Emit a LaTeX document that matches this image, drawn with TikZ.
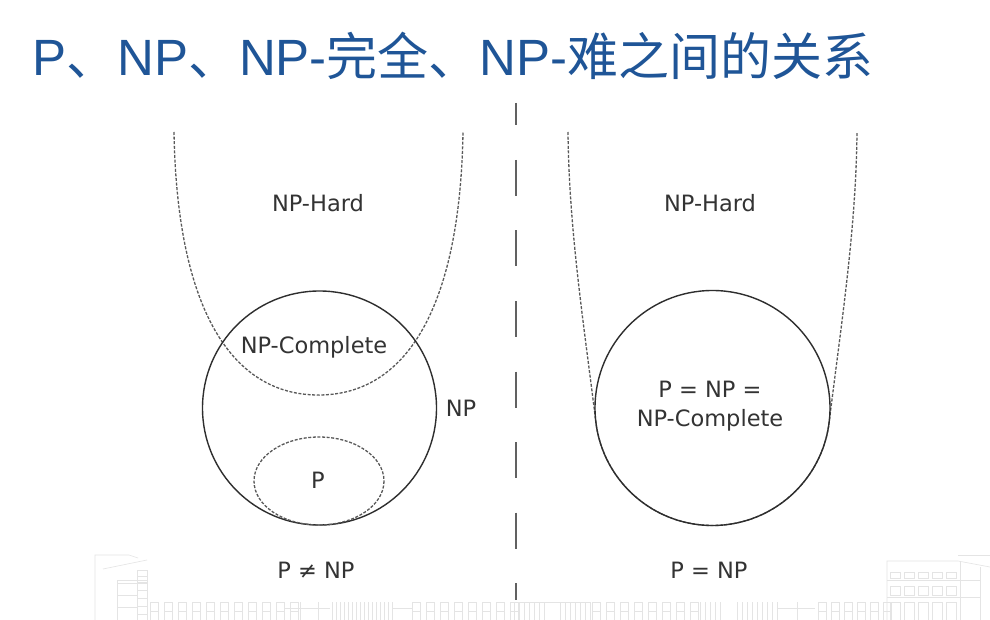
\documentclass[tikz,border=0pt]{standalone}
\usepackage{fontspec}
\setmainfont{DejaVu Sans}
\newfontfamily\cjkfont{Noto Sans CJK SC}
\newfontfamily\latinfont{Liberation Sans}
\definecolor{titleblue}{HTML}{1F5597}
\definecolor{ink}{HTML}{333333}
\definecolor{faint}{HTML}{E4E4E4}
\begin{document}
\begin{tikzpicture}[x=1pt,y=-1pt,
  setline/.style={line width=1.4pt, draw=black!82},
  hardline/.style={line width=1.3pt, draw=black!65, dash pattern=on 3pt off 1.6pt},
  lbl/.style={text=ink, font=\fontsize{22.5}{29}\selectfont, inner sep=0pt, align=center},
  wm/.style={draw=faint, line width=0.6pt},
  win/.style={wm}]
\useasboundingbox (0,0) rectangle (990,620);
\fill[white] (0,0) rectangle (990,620);

% faint campus building drawing along the bottom edge
\begin{scope}
  % left tower
  \draw[wm] (95,620) -- (95,555) -- (129,555) -- (138,558);
  \draw[wm] (103,569) -- (147,560);
  \draw[wm] (117,620) -- (117,580) -- (147,580);
  \draw[wm] (117,583) -- (147,583);
  \draw[wm] (117,595) -- (137,595) (117,607) -- (137,607);
  \draw[wm] (137,570) rectangle (147,620);
  \foreach \y in {576,582,590,598,606,614} \draw[wm] (137,\y) -- (147,\y);
  % window rows
  \foreach \x in {150,164,...,290,412,426,...,510,592,606,...,690,818,831,...,883}
    \draw[win] (\x,602) rectangle ++(8,18) (\x,611) -- ++(8,0);
  % connecting wings
  \draw[wm] (285,608) -- (330,608) (300,602) -- (300,620) (318,602) -- (318,620);
  \foreach \x in {332,336,...,392} \draw[wm] (\x,602) -- (\x,620);
  \draw[wm] (393,608) -- (412,608);
  \draw[wm] (510,602) -- (590,602);
  \foreach \x in {514,519,...,544,560,565,...,590} \draw[wm] (\x,602) -- (\x,620);
  \foreach \x in {700,705,...,720,737,742,...,777} \draw[wm] (\x,602) -- (\x,620);
  \draw[wm] (777,608) -- (815,608) (797,602) -- (797,620);
  % right block
  \draw[wm] (887,620) -- (887,561) -- (958,561) -- (990,567);
  \draw[wm] (958,555) -- (990,555);
  \draw[wm] (887,580) -- (980,580) (887,597) -- (980,597);
  \draw[wm] (960,561) -- (960,620) (980,567) -- (980,620);
  \foreach \x in {890,904,...,946} {
    \draw[win] (\x,572) rectangle ++(10,6);
    \draw[win] (\x,586) rectangle ++(10,9);
    \draw[win] (\x,602) rectangle ++(10,18);
  }
\end{scope}

% heading
\node[anchor=base west, text=titleblue, font=\fontsize{51}{51}\selectfont, inner sep=0pt] (title) at (32,76)
  {\latinfont P\cjkfont 、\latinfont NP\cjkfont 、\latinfont NP-\cjkfont 完全、\latinfont NP-\cjkfont 难之间的关系};

% divider between the two cases
\coordinate (sepTop) at (516,103);
\coordinate (sepBot) at (516,600);
\draw[line width=2pt, draw=black!62, dash pattern=on 36pt off 34.5pt, dash phase=13.5pt] (sepTop) -- (sepBot);

% ---- case P != NP ----
\draw[hardline] (174,132) .. controls (177,310) and (232,395) .. (318.5,395)
                .. controls (405,395) and (460,310) .. (463,132);
\draw[setline] (319.5,408) circle[radius=117];
\draw[hardline] (319,481) ellipse[x radius=65, y radius=44];

\node[lbl] (hardL) at (318,203) {NP-Hard};
\node[lbl] (compL) at (314,347) {NP-Complete};
\node[lbl] (npL)   at (461,408) {NP};
\node[lbl] (pL)    at (318,480) {P};
\node[lbl] (capL)  at (316,570) {P ≠ NP};

% ---- case P = NP ----
\draw[hardline] (568,132) .. controls (569,230) and (583.7,323) .. (595.9,422.3)
                arc[start angle=173, end angle=7, radius=117.5]
                .. controls (841.3,323) and (856,230) .. (857,132);
\draw[setline] (712.5,408) circle[radius=117.5];

\node[lbl] (hardR) at (710,203) {NP-Hard};
\node[lbl] (eqR)   at (710,406) {P = NP =\\NP-Complete};
\node[lbl] (capR)  at (709,570) {P = NP};
\end{tikzpicture}
\end{document}
